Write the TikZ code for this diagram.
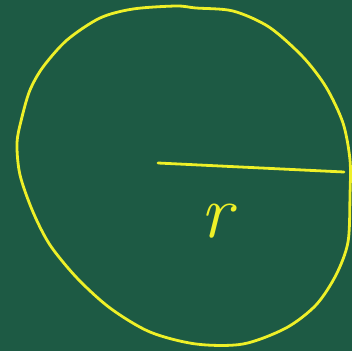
\documentclass[tikz,border=0pt]{standalone}
\usepackage{tikz}
\definecolor{board}{RGB}{29,90,68}
\definecolor{chalk}{RGB}{238,240,40}
\tikzset{chalkline/.style={draw=chalk,line width=2.8pt,line cap=round,line join=round}}
\begin{document}
\begin{tikzpicture}[x=1pt,y=-1pt]
\fill[board] (0,0) rectangle (352,351);
\useasboundingbox (0,0) rectangle (352,351);
\draw[chalkline] plot[smooth cycle,tension=0.5] coordinates {
 (100,18) (133,9) (176,6) (196,8) (233,11) (269,27) (303,57) (326,87)
 (343,123) (350,160) (350,195) (348,242) (336,275) (316,305) (286,328)
 (243,344) (196,344) (150,332) (110,308) (77,278) (50,245) (33,212)
 (20,175) (17,143) (22,117) (30,90) (43,67) (67,40)};
\coordinate (c) at (158,163);
\coordinate (e) at (344,172);
\draw[chalkline] (c) -- (e);
\node[text=chalk,anchor=base,font=\fontsize{76}{76}\selectfont\itshape] (r) at (216,237) {r};
\end{tikzpicture}
\end{document}
